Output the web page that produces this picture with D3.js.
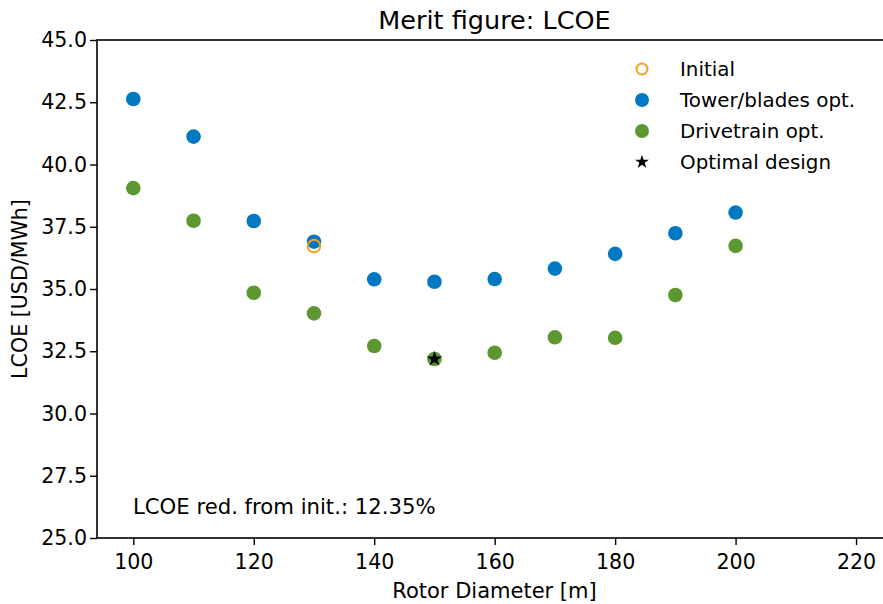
<!DOCTYPE html>
<html>
<head>
<meta charset="utf-8">
<script src="https://cdn.jsdelivr.net/npm/d3@7"></script>
<style>
  html, body { margin: 0; padding: 0; background: #fff; }
  svg { display: block; }
  text { font-family: "DejaVu Sans", sans-serif; fill: #000; }
</style>
</head>
<body>
<svg id="chart" width="883" height="604"></svg>
<script>
// Rotor diameters studied [m]
const diameters = [100, 110, 120, 130, 140, 150, 160, 170, 180, 190, 200];
// LCOE after tower/blade optimisation [USD/MWh]
const towerBlades = [42.63, 41.12, 37.73, 36.90, 35.39, 35.29, 35.40, 35.82, 36.41, 37.24, 38.07];
// LCOE after drivetrain optimisation [USD/MWh]
const drivetrain = [39.05, 37.74, 34.85, 34.02, 32.71, 32.19, 32.44, 33.06, 33.04, 34.76, 36.73];
// Baseline design
const initialD = [130];
const initialLCOE = [36.725];
// Best design
const optimalD = [150];
const optimalLCOE = [32.19];

const xTicks = [100, 120, 140, 160, 180, 200, 220];
const yTicks = [25.0, 27.5, 30.0, 32.5, 35.0, 37.5, 40.0, 42.5, 45.0];

const colors = { blue: "#0079C2", green: "#5D9732", orange: "#F7A11A" };
const fs = 20.6;

const svg = d3.select("#chart");
const m = { left: 97, top: 40, bottom: 538, right: 892 };

const x = d3.scaleLinear().domain([93.97, 225.97]).range([m.left, m.right]);
const y = d3.scaleLinear().domain([25, 45]).range([m.bottom, m.top]);

const plot = svg.append("g");

// axes
const xAxis = d3.axisBottom(x).tickValues(xTicks).tickFormat(d3.format("d")).tickSize(7).tickPadding(9);
const yAxis = d3.axisLeft(y).tickValues(yTicks).tickFormat(d3.format(".1f")).tickSize(7).tickPadding(3);

const gx = svg.append("g").attr("transform", `translate(0,${m.bottom})`).call(xAxis);
const gy = svg.append("g").attr("transform", `translate(${m.left},0)`).call(yAxis);
[gx, gy].forEach(g => {
  g.select(".domain").remove();
  g.selectAll(".tick line").attr("stroke", "#000").attr("stroke-width", 1.4);
  g.selectAll(".tick text").attr("font-size", fs).attr("font-family", "DejaVu Sans").attr("fill", "#000");
});

// frame
svg.append("rect")
  .attr("x", m.left).attr("y", m.top)
  .attr("width", m.right - m.left).attr("height", m.bottom - m.top)
  .attr("fill", "none").attr("stroke", "#000").attr("stroke-width", 1.6);

// series
plot.selectAll("circle.tb").data(diameters).join("circle")
  .attr("class", "tb")
  .attr("cx", d => x(d)).attr("cy", (d, i) => y(towerBlades[i]))
  .attr("r", 7.3).attr("fill", colors.blue);

plot.selectAll("circle.init").data(initialD).join("circle")
  .attr("class", "init")
  .attr("cx", d => x(d)).attr("cy", (d, i) => y(initialLCOE[i]))
  .attr("r", 6.3).attr("fill", "none").attr("stroke", colors.orange).attr("stroke-width", 2);

plot.selectAll("circle.dt").data(diameters).join("circle")
  .attr("class", "dt")
  .attr("cx", d => x(d)).attr("cy", (d, i) => y(drivetrain[i]))
  .attr("r", 7.3).attr("fill", colors.green);

const star = d3.symbol().type(d3.symbolStar).size(75);
plot.selectAll("path.opt").data(optimalD).join("path")
  .attr("class", "opt")
  .attr("transform", (d, i) => `translate(${x(d)},${y(optimalLCOE[i])})`)
  .attr("d", star).attr("fill", "#000");

// title and labels
svg.append("text").attr("x", (m.left + m.right) / 2).attr("y", 29)
  .attr("text-anchor", "middle").attr("font-size", 25.5).text("Merit figure: LCOE");
svg.append("text").attr("x", (m.left + m.right) / 2).attr("y", 598)
  .attr("text-anchor", "middle").attr("font-size", 21).text("Rotor Diameter [m]");
svg.append("text").attr("transform", `translate(27,${(m.top + m.bottom) / 2}) rotate(-90)`)
  .attr("text-anchor", "middle").attr("font-size", fs).text("LCOE [USD/MWh]");

// reduction annotation
const reduction = (1 - optimalLCOE[0] / initialLCOE[0]) * 100;
svg.append("text").attr("x", 133).attr("y", 514).attr("font-size", 21.2)
  .text(`LCOE red. from init.: ${reduction.toFixed(2)}%`);

// legend
const legendItems = [
  { label: "Initial", kind: "ring", color: colors.orange },
  { label: "Tower/blades opt.", kind: "dot", color: colors.blue },
  { label: "Drivetrain opt.", kind: "dot", color: colors.green },
  { label: "Optimal design", kind: "star", color: "#000" }
];
const lg = svg.append("g");
legendItems.forEach((it, i) => {
  const cy = 69 + i * 31;
  if (it.kind === "ring") {
    lg.append("circle").attr("cx", 642).attr("cy", cy).attr("r", 5.5)
      .attr("fill", "none").attr("stroke", it.color).attr("stroke-width", 2);
  } else if (it.kind === "dot") {
    lg.append("circle").attr("cx", 642).attr("cy", cy).attr("r", 7).attr("fill", it.color);
  } else {
    lg.append("path").attr("transform", `translate(642,${cy})`)
      .attr("d", d3.symbol().type(d3.symbolStar).size(60)).attr("fill", it.color);
  }
  lg.append("text").attr("x", 680).attr("y", cy + 7.3).attr("font-size", 19.9).text(it.label);
});
</script>
</body>
</html>
